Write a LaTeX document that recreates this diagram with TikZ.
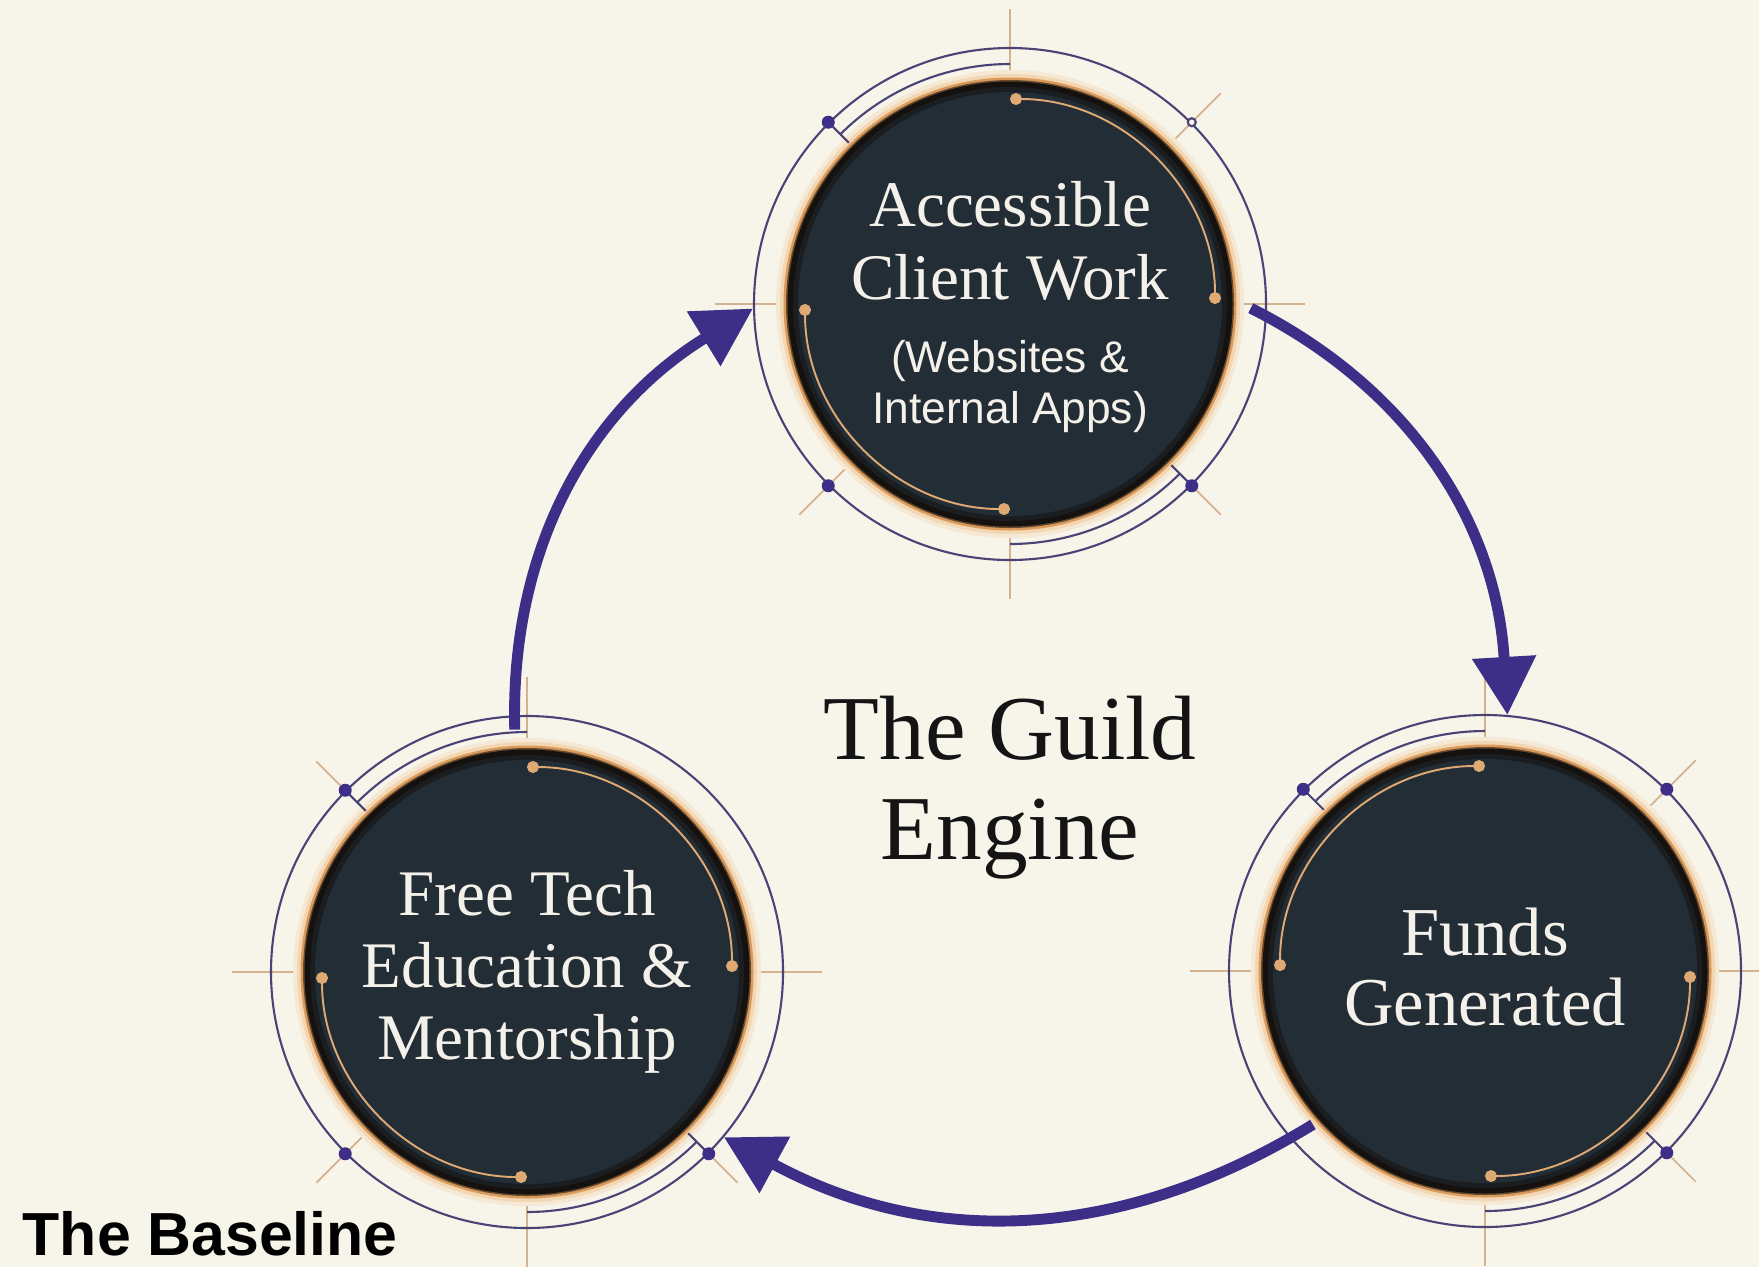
\documentclass[tikz,border=0pt]{standalone}
\usepackage{fontspec}
\setmainfont{Liberation Serif}
\setsansfont{Liberation Sans}
\usetikzlibrary{positioning,arrows.meta}

\definecolor{paper}{HTML}{F7F4EA}
\definecolor{slate}{HTML}{232D35}
\definecolor{discrim}{HTML}{15110F}
\definecolor{copper}{HTML}{D99A5C}
\definecolor{peach}{HTML}{F3D6B2}
\definecolor{ringline}{HTML}{4A4476}
\definecolor{guild}{HTML}{3D2F88}
\definecolor{tan}{HTML}{D4B28F}
\definecolor{inkwhite}{HTML}{F4F1EA}

\begin{document}
\begin{tikzpicture}[
    disc/.style={circle, minimum size=4.48cm, inner sep=0pt},
    ring/.style={circle, minimum size=5.12cm, inner sep=0pt, draw=ringline, line width=.6pt},
    cross/.style={draw=tan, line width=.6pt},
    ringarc/.style={draw=ringline, line width=.6pt},
    ringdot/.style={fill=guild},
    glowarc/.style={draw=copper!85!white, line width=.55pt, {Circle[length=3.4pt]}-{Circle[length=3.4pt]}},
    title/.style={align=center, inner sep=0pt, text=inkwhite, font=\fontsize{18.5}{20.7}\selectfont},
    subtitle/.style={align=center, inner sep=0pt, text=inkwhite, font=\sffamily\fontsize{12.6}{14.5}\selectfont},
    engine/.style={align=center, inner sep=0pt, text=black!92, font=\fontsize{26}{28.4}\selectfont},
    basetag/.style={inner sep=0pt, font=\sffamily\bfseries\fontsize{17.3}{20}\selectfont},
    flow/.style={draw=guild, line width=3.1pt, -{Triangle[length=16.5pt, width=17.5pt]}}
]
\path[use as bounding box, fill=paper] (0,0) rectangle (17.59,-12.67);

\foreach \n/\x/\y in {acw/10.10/-3.04, funds/14.85/-9.71, edu/5.27/-9.72}
    \coordinate (c\n) at (\x,\y);

% crosshairs, ticks, copper halo and dark rim
\foreach \n/\tk in {acw/{45,225,315}, funds/{45,315}, edu/{135,225,315}} {
    \begin{scope}[shift={(c\n)}]
        \draw[cross] (-2.95,0) -- (2.95,0) (0,-2.95) -- (0,2.95);
        \foreach \a in \tk {\draw[cross, line width=.5pt] (\a:2.34) -- (\a:2.98);}
        \fill[peach!40!paper] (0,0) circle (2.34);
        \fill[peach] (0,0) circle (2.30);
        \fill[copper] (0,0) circle (2.265);
        \fill[copper!40!discrim] (0,0) circle (2.24);
        \fill[discrim] (0,0) circle (2.225);
        \fill[slate!45!discrim] (0,0) circle (2.17);
        \fill[slate] (0,0) circle (2.12);
    \end{scope}
}

\foreach \n in {acw,funds,edu} {
    \node[disc] (\n) at (c\n) {};
    \node[ring] (\n-ring) at (c\n) {};
}

% inner arcs
\foreach \n/\q in {acw/0, funds/90, edu/0} {
    \begin{scope}[shift={(c\n)}]
        \draw[glowarc] (\q:2.05) arc[start angle=\q, end angle=\q+90, radius=2.05];
        \draw[glowarc] (\q+180:2.05) arc[start angle=\q+180, end angle=\q+270, radius=2.05];
        \draw[ringarc] (90:2.40) arc[start angle=90, end angle=135, radius=2.40];
        \draw[ringarc] (270:2.40) arc[start angle=270, end angle=315, radius=2.40];
        \draw[ringarc] (135:2.28) -- (135:2.56) (315:2.28) -- (315:2.56);
    \end{scope}
}

% dots on the rings
\foreach \n/\dt in {acw/{135,225,315}, funds/{45,135,315}, edu/{135,225,315}}
    \foreach \a in \dt {\fill[ringdot] (\n-ring.\a) circle (.065);}
\draw[ringarc, fill=paper] (acw-ring.45) circle (.04);

\node[title] (acwT) at ([yshift=6.3mm]acw.center) {Accessible\\Client Work};
\node[subtitle, below=3.9mm of acwT] (acwS) {(Websites \&\\Internal Apps)};
\node[title, font=\fontsize{19.5}{20.1}\selectfont] (fundsT) at ([yshift=.4mm]funds.center) {Funds\\Generated};
\node[title, font=\fontsize{18.5}{20.4}\selectfont] (eduT) at (edu.center) {Free Tech\\Education \&\\Mentorship};

\node[engine] (guild) at (10.10,-7.88) {The Guild\\Engine};
\node[basetag, anchor=base west] (baseline) at (0.22,-12.55) {The Baseline};

\draw[flow, shorten <=1.8mm] (edu.93) to[bend left=30] (acw-ring.181);
\draw[flow, shorten <=1.8mm] (acw.1) to[bend left=30] (funds-ring.85);
\draw[flow, shorten <=.6mm] (funds.222) to[bend left=30] (edu-ring.-40);
\end{tikzpicture}
\end{document}
